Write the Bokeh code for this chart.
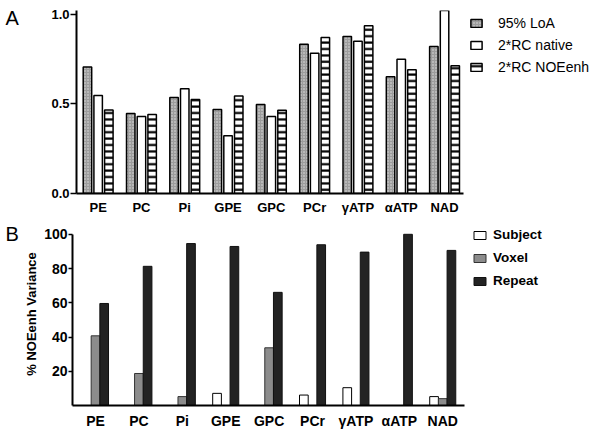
from bokeh.plotting import figure
from bokeh.models import (Range1d, FixedTicker, Legend, LegendItem,
                          ColumnDataSource, NumeralTickFormatter)
from bokeh.core.properties import value
from bokeh.transform import dodge
from bokeh.layouts import column, row
from bokeh.embed import file_html
from bokeh.resources import INLINE

# ---------------- data ----------------
categories = ["PE", "PC", "Pi", "GPE", "GPC", "PCr", "γATP", "αATP", "NAD"]

# Panel A
loa = [0.706, 0.447, 0.536, 0.469, 0.497, 0.834, 0.877, 0.652, 0.821]
rc_native = [0.547, 0.430, 0.585, 0.322, 0.430, 0.784, 0.851, 0.750, 1.022]
rc_noe = [0.467, 0.441, 0.525, 0.544, 0.465, 0.872, 0.937, 0.691, 0.713]
a_ticks = [0.0, 0.5, 1.0]

# Panel B
subject = [0, 0, 0, 7.1, 0, 6.1, 10.4, 0, 5.2]
voxel = [40.7, 18.7, 5.2, 0, 33.7, 0, 0, 0, 4.0]
repeat = [59.6, 81.3, 94.6, 92.9, 66.1, 93.9, 89.6, 100, 90.6]
b_ticks = [20, 40, 60, 80, 100]

panel_letters = ["A", "B"]

idx = list(range(len(categories)))
FONT = "Liberation Sans"


def style_axes(p, tick_size, ytick_out):
    p.outline_line_color = None
    p.xgrid.visible = False
    p.ygrid.visible = False
    p.background_fill_color = "white"
    p.border_fill_color = "white"
    for ax in (p.xaxis[0], p.yaxis[0]):
        ax.axis_line_width = 2
        ax.axis_line_color = "black"
        ax.major_label_text_font = FONT
        ax.major_label_text_font_style = "bold"
        ax.major_label_text_font_size = tick_size
        ax.major_label_text_color = "black"
        ax.minor_tick_line_color = None
        ax.major_tick_in = 0
    p.xaxis[0].major_tick_out = 0
    p.xaxis[0].major_label_standoff = 6
    p.yaxis[0].major_tick_out = ytick_out
    p.yaxis[0].major_tick_line_width = 1.5
    p.yaxis[0].major_label_standoff = 1


def letter_fig(letter, height, ymid):
    f = figure(width=20, height=height, x_range=Range1d(0, 20),
               y_range=Range1d(0, height), output_backend="svg",
               toolbar_location=None, x_axis_type=None, y_axis_type=None,
               min_border_left=0, min_border_right=0, min_border_top=0,
               min_border_bottom=0)
    f.outline_line_color = None
    f.grid.visible = False
    f.text(x=[5], y=[ymid], text=[letter], text_font=value(FONT),
           text_font_size="20px", text_baseline="middle", text_align="left",
           text_color="black")
    return f


# ---------------- Panel A ----------------
srcA = ColumnDataSource(dict(x=idx, loa=loa, native=rc_native, noe=rc_noe))

pA = figure(width=580, height=220, x_range=Range1d(-0.5, 11.417),
            y_range=Range1d(0, 1.0223), output_backend="svg",
            toolbar_location=None, min_border_left=56, min_border_right=8,
            min_border_top=10, min_border_bottom=27)
style_axes(pA, "13px", 6)
pA.xaxis[0].ticker = FixedTicker(ticks=idx)
pA.xaxis[0].major_label_overrides = {i: c for i, c in enumerate(categories)}
pA.xaxis[0].bounds = (-0.5, 8.44)
pA.yaxis[0].ticker = FixedTicker(ticks=a_ticks)
pA.yaxis[0].formatter = NumeralTickFormatter(format="0.0")

bw = 0.196
rA1 = pA.vbar(x=dodge("x", -0.247), top="loa", width=bw, source=srcA,
              fill_color="#9c9c9c", line_color="black", line_width=1.5,
              hatch_pattern="dot", hatch_color="#e0e0e0", hatch_scale=3,
              hatch_weight=1)
rA2 = pA.vbar(x=dodge("x", 0.0), top="native", width=bw, source=srcA,
              fill_color="white", line_color="black", line_width=1.5)
rA3 = pA.vbar(x=dodge("x", 0.247), top="noe", width=bw, source=srcA,
              fill_color="white", line_color="black", line_width=1.5,
              hatch_pattern="horizontal_line", hatch_color="black",
              hatch_scale=6.4, hatch_weight=2.2)

legA = Legend(items=[LegendItem(label="95% LoA", renderers=[rA1]),
                     LegendItem(label="2*RC native", renderers=[rA2]),
                     LegendItem(label="2*RC NOEenh", renderers=[rA3])],
              location=(393, 116), glyph_width=14, glyph_height=10,
              label_standoff=15, label_height=20, spacing=2, padding=0,
              margin=0, border_line_color=None, background_fill_alpha=0,
              label_text_font=FONT, label_text_font_size="14px",
              label_text_color="black")
pA.add_layout(legA)

# ---------------- Panel B ----------------
srcB = ColumnDataSource(dict(x=idx, subject=subject, voxel=voxel, repeat=repeat))

pB = figure(width=580, height=211, x_range=Range1d(-0.53, 11.45),
            y_range=Range1d(0, 106.9), output_backend="svg",
            toolbar_location=None, min_border_left=52, min_border_right=8,
            min_border_top=2, min_border_bottom=24)
style_axes(pB, "14px", 4)
pB.xaxis[0].ticker = FixedTicker(ticks=idx)
pB.xaxis[0].major_label_overrides = {i: c for i, c in enumerate(categories)}
pB.xaxis[0].bounds = (-0.53, 8.49)
pB.xaxis[0].major_label_standoff = 7
pB.yaxis[0].ticker = FixedTicker(ticks=b_ticks)
pB.yaxis[0].bounds = (0, 100)
pB.yaxis[0].axis_label = "% NOEenh Variance"
pB.yaxis[0].axis_label_text_font = FONT
pB.yaxis[0].axis_label_text_font_style = "bold"
pB.yaxis[0].axis_label_text_font_size = "13px"
pB.yaxis[0].axis_label_standoff = 2
pB.yaxis[0].axis_label_text_color = "black"

bwB = 0.2
rB1 = pB.vbar(x=dodge("x", -0.2), top="subject", width=bwB, source=srcB,
              fill_color="white", line_color="black", line_width=1)
rB2 = pB.vbar(x=dodge("x", 0.0), top="voxel", width=bwB, source=srcB,
              fill_color="#8c8c8c", line_color="#333333", line_width=1)
rB3 = pB.vbar(x=dodge("x", 0.2), top="repeat", width=bwB, source=srcB,
              fill_color="#232323", line_color="#111111", line_width=1)

legB = Legend(items=[LegendItem(label="Subject", renderers=[rB1]),
                     LegendItem(label="Voxel", renderers=[rB2]),
                     LegendItem(label="Repeat", renderers=[rB3])],
              location=(400, 114), glyph_width=15, glyph_height=10,
              label_standoff=6, label_height=21, spacing=2, padding=0,
              margin=0, border_line_color=None, background_fill_alpha=0,
              label_text_font=FONT, label_text_font_size="13.5px",
              label_text_font_style="bold", label_text_color="black")
pB.add_layout(legB)

lA = letter_fig(panel_letters[0], 220, 211)
lB = letter_fig(panel_letters[1], 211, 198)

layout = column(row(lA, pA, spacing=0), row(lB, pB, spacing=0), spacing=0)
open("out.html", "w").write(file_html(layout, INLINE))
